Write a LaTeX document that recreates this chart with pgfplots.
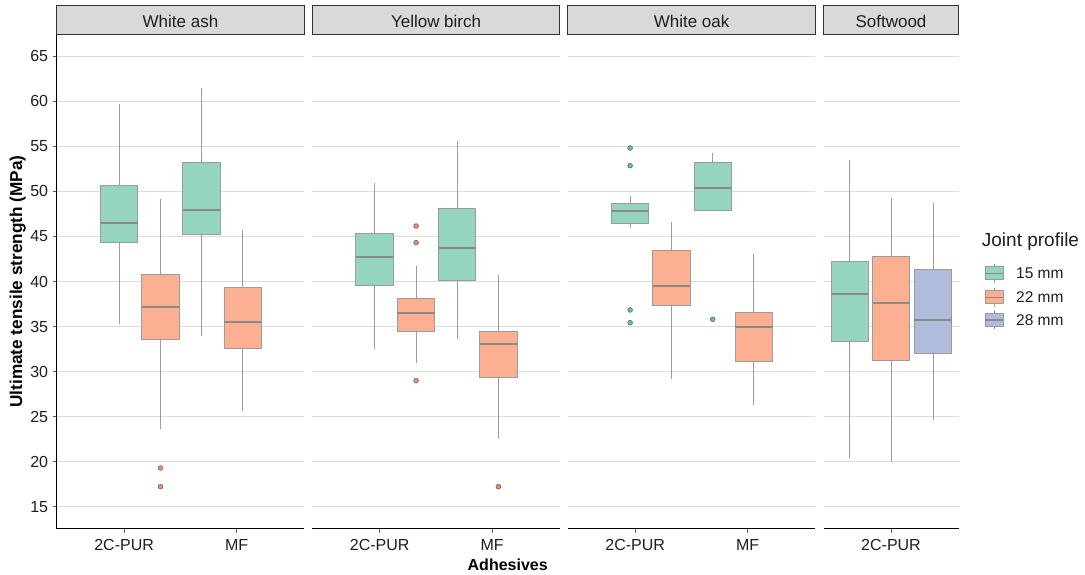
\documentclass[border=0pt]{standalone}
\usepackage{pgfplots}
\pgfplotsset{compat=1.18}
\usepgfplotslibrary{statistics}
\usepackage{fontspec}
\setmainfont{Liberation Sans}
\definecolor{fA}{RGB}{148,212,192}
\definecolor{fB}{RGB}{253,175,145}
\definecolor{fC}{RGB}{175,188,219}
\definecolor{oA}{RGB}{102,194,165}
\definecolor{oB}{RGB}{240,140,105}
\definecolor{edge}{RGB}{155,155,155}
\definecolor{med}{RGB}{138,138,138}
\definecolor{gridc}{RGB}{220,220,220}
\definecolor{stripfill}{RGB}{217,217,217}
\definecolor{stripedge}{RGB}{51,51,51}
\definecolor{txt}{RGB}{30,30,30}
\definecolor{ptedge}{RGB}{105,105,105}

\pgfplotsset{
  panel/.style={
    scale only axis, height=495pt, ymin=12.52, ymax=67.48, xmin=0,
    axis x line*=bottom, axis y line*=left,
    ytick={15,20,...,65},
    ymajorgrids, major grid style={line width=0.9pt, color=gridc},
    tick align=outside, major tick length=4pt,
    tick style={line width=0.9pt, color=black!65},
    axis line style={line width=1pt, black},
    /pgf/number format/assume math mode=true,
    ticklabel style={font=\fontsize{16}{18}\selectfont, text=txt},
    xticklabel style={anchor=north, inner sep=0pt, yshift=-6pt},
    yticklabel style={anchor=east, inner sep=0pt, xshift=-4.4pt},
    boxplot/draw direction=y,
    clip=false,
  },
  noy/.style={y axis line style={draw=none}, ytick style={draw=none}, yticklabels={}},
  outl/.style={only marks, mark=*, mark size=2.4pt, mark options={fill=#1, draw=ptedge, line width=0.6pt}},
}
% position, lw, q1, med, q3, uw, fill
\newcommand\bx[7]{\addplot[draw=edge, fill=#7, line width=1pt,
  boxplot prepared={draw position=#1, lower whisker=#2, lower quartile=#3, median=#4,
  upper quartile=#5, upper whisker=#6, box extend=37.3, whisker extend=0,
  every median/.style={draw=med, line width=2pt}}] coordinates {};}

\newcommand\strip[2]{%
  \draw[fill=stripfill, draw=stripedge, line width=0.9pt] (#1.north west) rectangle ([yshift=28.7pt]#1.north east);
  \node[anchor=base, inner sep=0pt, font=\fontsize{17}{19}\selectfont, text=txt] at ([yshift=6.9pt]#1.north) {#2};}

\begin{document}
\begin{tikzpicture}[x=1pt,y=1pt]
\useasboundingbox (0,0) rectangle (1085,575);

% ---------- White ash
\begin{axis}[panel, name=a1, at={(56.7pt,46pt)}, anchor=south west, width=247.5pt, xmax=247.5,
  xtick={67.4,179.9}, xticklabels={2C-PUR,MF}]
\bx{62.3}{35.28}{44.35}{46.5}{50.7}{59.7}{fA}
\bx{103.8}{23.66}{33.58}{37.13}{40.83}{49.2}{fB}
\bx{144.9}{33.9}{45.24}{47.94}{53.19}{61.45}{fA}
\bx{186.1}{25.62}{32.54}{35.5}{39.35}{45.72}{fB}
\addplot[outl=oB] coordinates {(103.8,19.29) (103.8,17.22)};
\end{axis}
\strip{a1}{White ash}

% ---------- Yellow birch
\begin{axis}[panel, noy, name=a2, at={(312.3pt,46pt)}, anchor=south west, width=247.5pt, xmax=247.5,
  xtick={67.4,179.9}, xticklabels={2C-PUR,MF}]
\bx{62.3}{32.5}{39.57}{42.76}{45.35}{50.9}{fA}
\bx{103.8}{30.99}{34.5}{36.54}{38.09}{41.68}{fB}
\bx{144.9}{33.65}{40.06}{43.68}{48.09}{55.56}{fA}
\bx{186.1}{22.48}{29.32}{33.1}{34.5}{40.76}{fB}
\addplot[outl=oB] coordinates {(103.8,46.16) (103.8,44.31) (103.8,28.99) (186.1,17.22)};
\end{axis}
\strip{a2}{Yellow birch}

% ---------- White oak
\begin{axis}[panel, noy, name=a3, at={(567.8pt,46pt)}, anchor=south west, width=247.5pt, xmax=247.5,
  xtick={67.4,179.9}, xticklabels={2C-PUR,MF}]
\bx{62.3}{45.9}{46.42}{47.83}{48.68}{49.46}{fA}
\bx{103.8}{29.21}{37.39}{39.54}{43.39}{46.64}{fB}
\bx{144.9}{47.9}{47.9}{50.38}{53.19}{54.27}{fA}
\bx{186.1}{26.29}{31.17}{34.91}{36.58}{43.09}{fB}
\addplot[outl=oA] coordinates {(62.3,54.82) (62.3,52.86) (62.3,36.84) (62.3,35.43) (144.9,35.8)};
\end{axis}
\strip{a3}{White oak}

% ---------- Softwood
\begin{axis}[panel, noy, name=a4, at={(823.5pt,46pt)}, anchor=south west, width=135pt, xmax=135,
  xtick={67.5}, xticklabels={2C-PUR}]
\bx{26.3}{20.44}{33.36}{38.61}{42.24}{53.45}{fA}
\bx{67.8}{20.0}{31.28}{37.58}{42.79}{49.31}{fB}
\bx{109.5}{24.59}{32.02}{35.72}{41.35}{48.76}{fC}
\end{axis}
\strip{a4}{Softwood}

% axis titles
\node[rotate=90, font=\bfseries\fontsize{17.2}{19}\selectfont, text=black] at (17.7,293.5) {Ultimate tensile strength (MPa)};
\node[anchor=base, inner sep=0pt, font=\bfseries\fontsize{16}{18}\selectfont, text=black] at (507.7,4.3) {Adhesives};

% legend
\node[anchor=west, inner sep=0pt, font=\fontsize{19}{21}\selectfont, text=txt] at (981.7,333) {Joint profile};
\foreach \yy/\cc/\lab in {301.7/fA/15 mm, 277.7/fB/22 mm, 255/fC/28 mm}{
  \draw[edge, line width=0.8pt] (994,\yy-9.5) -- (994,\yy+9.5);
  \draw[edge, fill=\cc, line width=0.8pt] (985,\yy-6.5) rectangle (1003,\yy+6.5);
  \draw[med, line width=1.5pt] (985,\yy) -- (1003,\yy);
  \node[anchor=west, inner sep=0pt, font=\fontsize{15.5}{18}\selectfont, text=txt] at (1016,\yy) {\lab};
}
\end{tikzpicture}
\end{document}
